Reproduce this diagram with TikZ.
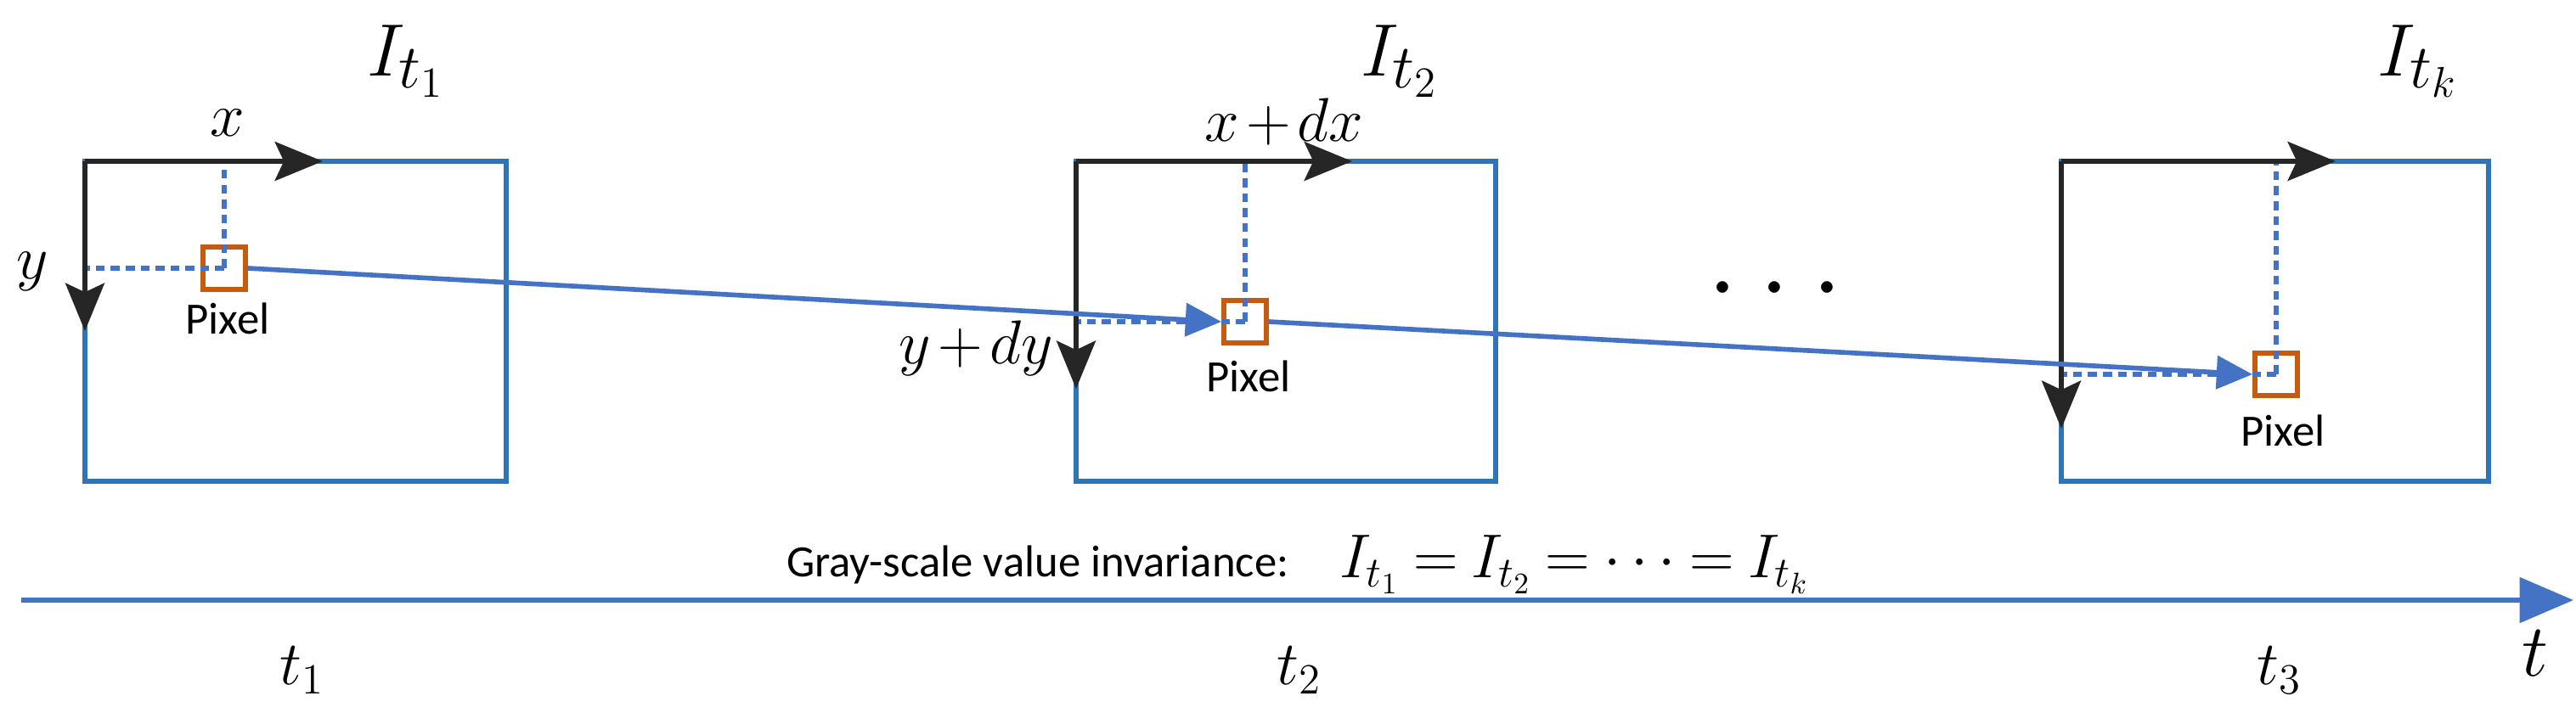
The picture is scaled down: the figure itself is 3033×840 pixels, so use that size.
\documentclass[tikz,border=0pt]{standalone}
\usepackage{amsmath}
\usepackage{fontspec}
\setmainfont{Carlito}
\usetikzlibrary{arrows.meta}
\definecolor{fb}{HTML}{2E75B6}
\definecolor{lb}{HTML}{4472C4}
\definecolor{og}{HTML}{C55A11}
\definecolor{dk}{HTML}{262626}
\newcommand{\tightmath}{\medmuskip=2mu\relax\thickmuskip=3mu\relax}
\newcommand{\eqmath}{\medmuskip=2mu\relax\thickmuskip=4mu\relax}
\begin{document}
\begin{tikzpicture}[x=0.01cm,y=-0.01cm,
  frame/.style={draw=fb,line width=1.7pt},
  axis/.style={draw=dk,line width=1.9pt,-{Triangle[length=16pt,width=13pt,inset=3pt]}},
  pix/.style={draw=og,line width=1.7pt,minimum size=0.5cm,inner sep=0pt},
  dot/.style={draw=lb,line width=1.6pt,dash pattern=on 3pt off 2pt},
  flow/.style={draw=lb,line width=1.6pt,-{Triangle[length=12pt,width=11pt]}},
  lbl/.style={font=\fontsize{15}{17}\selectfont},
  mth/.style={font=\fontsize{22}{24}\selectfont\tightmath}]
\useasboundingbox (0,0) rectangle (3033,840);
% frames
\coordinate (f1) at (100,190); \coordinate (f2) at (1267,190); \coordinate (f3) at (2427,190);
\draw[frame] (100,190) rectangle (596,567);
\draw[frame] (1267,190) rectangle (1761,567);
\draw[frame] (2427,190) rectangle (2930,567);
% pixels
\node[pix] (p1) at (264,316) {};
\node[pix] (p2) at (1466,379) {};
\node[pix] (p3) at (2680,441) {};
% dotted guides
\draw[dot] (p1.center) -- (264,190);
\draw[dot] (p1.center) -- (100,316);
\draw[dot] (p2.center) -- (1466,190);
\draw[dot] (p2.center) -- (1267,379);
\draw[dot] (p3.center) -- (2680,190);
\draw[dot] (p3.center) -- (2427,441);
% axes
\coordinate (x1) at (380,190); \coordinate (y1) at (100,390);
\coordinate (x2) at (1592,190); \coordinate (y2) at (1267,458);
\coordinate (x3) at (2750,190); \coordinate (y3) at (2427,505);
\draw[axis] (f1) -- (x1); \draw[axis] (f1) -- (y1);
\draw[axis] (f2) -- (x2); \draw[axis] (f2) -- (y2);
\draw[axis] (f3) -- (x3); \draw[axis] (f3) -- (y3);
% flow
\draw[flow] (p1.east) -- (p2.west);
\draw[flow] (p2.east) -- (p3.west);
% labels
\node[lbl] (l1) at (268,375) {Pixel};
\node[lbl] (l2) at (1470,443) {Pixel};
\node[lbl] (l3) at (2688,507) {Pixel};
\node[mth] (nx) at (268,145) {$x$};
\node[mth] (ny) at (38,320) {$y$};
\node[mth] (nx2) at (1512,143) {$x+dx$};
\node[mth,anchor=east] (ny2) at (1252,410) {$y+dy$};
\node[font=\fontsize{30}{32}\selectfont] (I1) at (478,72) {$I_{t_1}$};
\node[font=\fontsize{30}{32}\selectfont] (I2) at (1648,72) {$I_{t_2}$};
\node[font=\fontsize{30}{32}\selectfont] (I3) at (2847,72) {$I_{t_k}$};
\node[font=\fontsize{60}{60}\selectfont] (dots) at (2090,340) {$\boldsymbol{\cdot}\,\boldsymbol{\cdot}\,\boldsymbol{\cdot}$};
% time axis
\coordinate (ta) at (25,707); \coordinate (tb) at (3030,707);
\draw[draw=lb,line width=1.6pt,-{Triangle[length=18pt,width=15pt]}] (ta) -- (tb);
\node[lbl,anchor=east] (gs) at (1530,665) {Gray-scale value invariance:};
\node[anchor=west,font=\fontsize{20}{22}\selectfont\eqmath] (eq) at (1565,665) {$I_{t_1}=I_{t_2}=\cdots=I_{t_k}$};
\node[mth] (t1) at (356,790) {$t_1$};
\node[mth] (t2) at (1530,790) {$t_2$};
\node[mth] (t3) at (2684,790) {$t_3$};
\node[font=\fontsize{56}{56}\selectfont] (tt) at (2985,770) {$t$};
\end{tikzpicture}
\end{document}
